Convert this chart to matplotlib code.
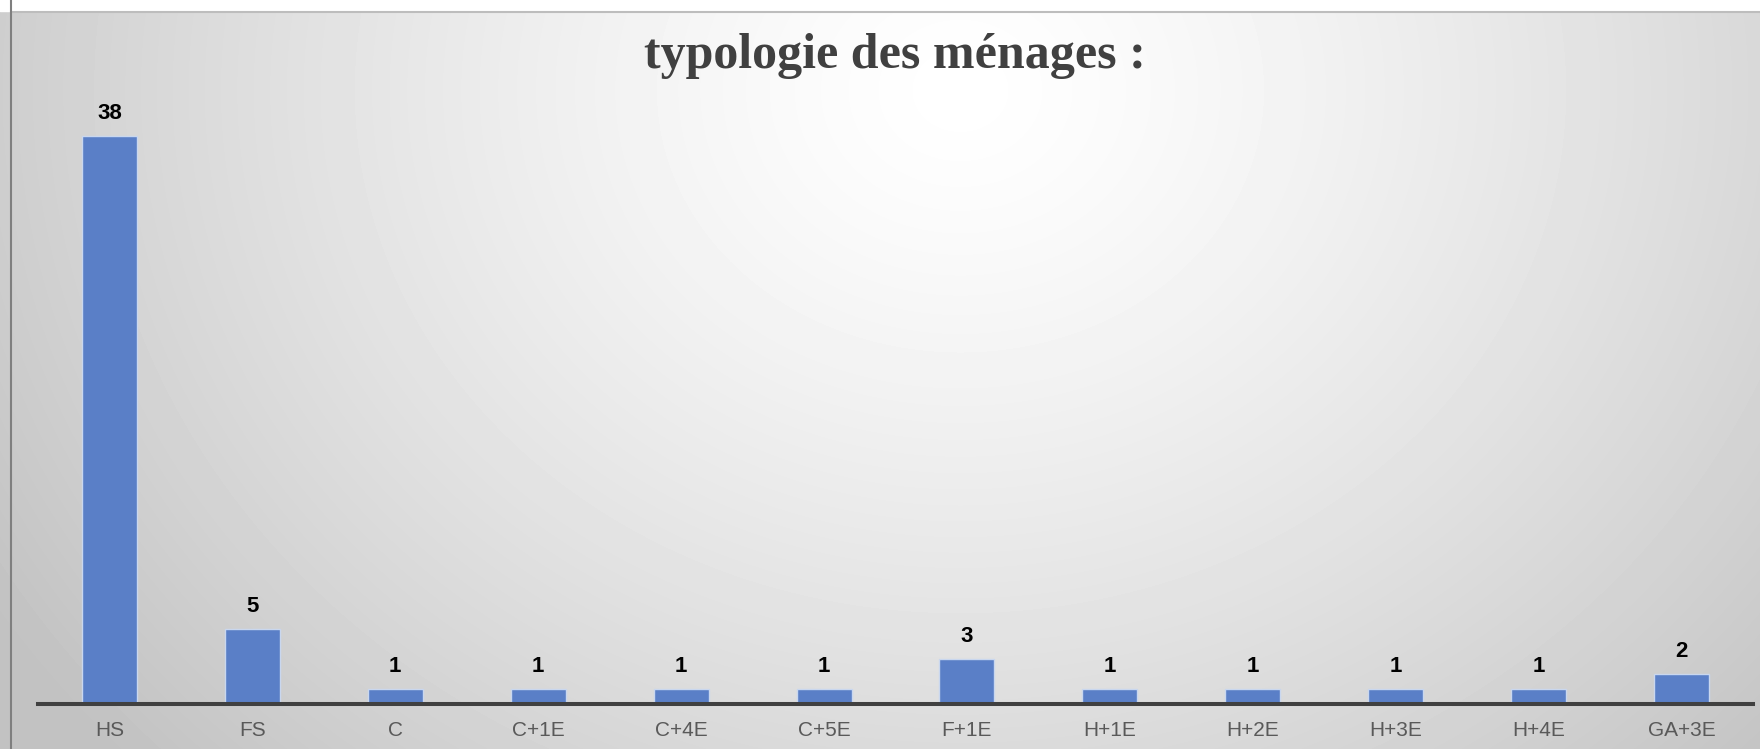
import numpy as np
import matplotlib
matplotlib.use('Agg')
import matplotlib.pyplot as plt

# données du graphique
categories = ['HS', 'FS', 'C', 'C+1E', 'C+4E', 'C+5E', 'F+1E', 'H+1E', 'H+2E', 'H+3E', 'H+4E', 'GA+3E']
values = [38, 5, 1, 1, 1, 1, 3, 1, 1, 1, 1, 2]
title = 'typologie des ménages :'

W, H = 1760, 749
fig = plt.figure(figsize=(W / 100, H / 100), dpi=100)

# fond en dégradé radial (clair au centre haut, gris sur les bords)
bg = fig.add_axes([0, 0, 1, 1])
bg.set_xlim(0, W)
bg.set_ylim(H, 0)
bg.axis('off')
yy, xx = np.mgrid[0:H, 0:W]
d = np.sqrt(((xx - 960) / 950.0) ** 2 + ((yy - 90) / 820.0) ** 2)
shade = 1.0 - 0.24 * np.clip(d, 0, 1.2) ** 1.3 / 1.2 ** 1.3
bg.imshow(shade, cmap='gray', vmin=0, vmax=1, extent=(0, W, H, 0), aspect='auto', zorder=0)
bg.fill_between([0, W], 0, 11, color='white', zorder=1)
bg.plot([11, W], [11.5, 11.5], color='#bdbdbd', lw=1.5, zorder=2)
bg.plot([11, 11], [0, H], color='#7f7f7f', lw=1.5, zorder=2)

# graphique en barres
ax = fig.add_axes([38 / W, 45 / H, 1715 / W, 597.6 / H])
ax.set_facecolor('none')
x = np.arange(len(categories))
bars = ax.bar(x, values, width=0.385, color='#5a7fc7', edgecolor='#c9d7ef', linewidth=1)
ax.set_xlim(-0.5, len(categories) - 0.5)
ax.set_ylim(0, 40)

for b, v in zip(bars, values):
    ax.annotate(str(v), (b.get_x() + b.get_width() / 2, v), xytext=(0, 9),
                textcoords='offset points', ha='center', va='bottom',
                fontsize=16, fontweight='bold', family='Liberation Sans', color='black')

for s in ['top', 'left', 'right']:
    ax.spines[s].set_visible(False)
ax.spines['bottom'].set_color('#404040')
ax.spines['bottom'].set_linewidth(2.9)
ax.set_yticks([])
ax.set_xticks(x)
ax.set_xticklabels(categories, fontsize=15, family='Liberation Sans', color='#595959')
ax.tick_params(axis='x', length=0, pad=12)

fig.text(895 / W, 1 - 68 / H, title, ha='center', va='baseline', fontsize=36,
         fontweight='bold', family='Liberation Serif', color='#404040')

fig.savefig('out.png', dpi=100)
